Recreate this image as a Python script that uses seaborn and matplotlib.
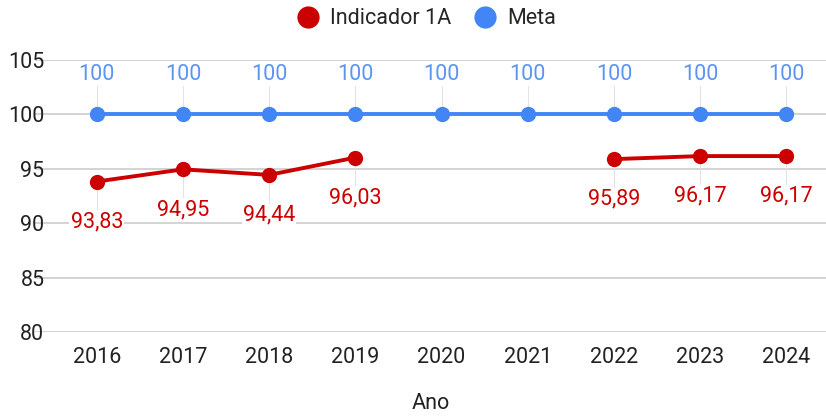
import numpy as np
import pandas as pd
import matplotlib
matplotlib.use("Agg")
import matplotlib.pyplot as plt
from matplotlib.lines import Line2D
import seaborn as sns

# dados do gráfico
anos = [2016, 2017, 2018, 2019, 2020, 2021, 2022, 2023, 2024]
indicador_1a = [93.83, 94.95, 94.44, 96.03, np.nan, np.nan, 95.89, 96.17, 96.17]
meta = [100, 100, 100, 100, 100, 100, 100, 100, 100]

red = "#cc0000"
blue = "#4285f4"
blue_txt = "#5a95f0"
fs = 15.5

sns.set_theme(style="white")
plt.rcParams["font.family"] = ["Roboto", "DejaVu Sans"]

df = pd.DataFrame({"Ano": anos, "Indicador 1A": indicador_1a, "Meta": meta})
# segmentos para manter o buraco em 2020-2021
df["seg"] = df["Indicador 1A"].isna().cumsum()
ind = df.dropna(subset=["Indicador 1A"])

fig = plt.figure(figsize=(8.26, 4.17), dpi=100)
ax = fig.add_axes([0.042, 0.204, 0.958, 0.652])

sns.lineplot(data=df, x="Ano", y="Meta", color=blue, linewidth=2.8, marker="o",
             markersize=11, markeredgewidth=0, ax=ax, zorder=3)
sns.lineplot(data=ind, x="Ano", y="Indicador 1A", units="seg", estimator=None,
             color=red, linewidth=2.8, marker="o", markersize=11,
             markeredgewidth=0, ax=ax, zorder=4)

def fmt(v):
    return f"{v:.2f}".replace(".", ",")

for x, v in zip(anos, meta):
    ax.plot([x, x], [v, v + 2.6], color="#e3e3e3", lw=0.8, zorder=1)
    ax.annotate(str(v), (x, v), xytext=(0, 29), textcoords="offset points",
                ha="center", va="center", color=blue_txt, fontsize=fs)
for x, v in zip(ind["Ano"], ind["Indicador 1A"]):
    ax.plot([x, x], [v, v - 2.6], color="#e3e3e3", lw=0.8, zorder=1)
    ax.annotate(fmt(v), (x, v), xytext=(0, -29), textcoords="offset points",
                ha="center", va="center", color=red, fontsize=fs,
                bbox=dict(boxstyle="square,pad=0.05", fc="white", ec="none"))

ax.set_ylim(80, 105)
ax.set_yticks([80, 85, 90, 95, 100, 105])
ax.set_xlim(2016 - 0.72, 2024 + 0.46)
ax.set_xticks(anos)
ax.yaxis.grid(True, color="#cccccc", linewidth=1.2)
ax.set_axisbelow(True)
for s in ax.spines.values():
    s.set_visible(False)
ax.tick_params(axis="both", labelsize=fs, colors="#222222", length=0)
ax.tick_params(axis="x", pad=11)
ax.tick_params(axis="y", pad=-7)
ax.set_ylabel("")
ax.set_xlabel("Ano", fontsize=fs, color="#222222", labelpad=18)

handles = [Line2D([], [], marker="o", color="none", markerfacecolor=red,
                  markeredgewidth=0, markersize=16),
           Line2D([], [], marker="o", color="none", markerfacecolor=blue,
                  markeredgewidth=0, markersize=16)]
fig.legend(handles, ["Indicador 1A", "Meta"], loc="center",
           bbox_to_anchor=(0.515, 0.955), ncol=2, frameon=False,
           fontsize=fs, handletextpad=0.4, columnspacing=1.0,
           handlelength=1.2)

fig.savefig("out.png", dpi=100)
